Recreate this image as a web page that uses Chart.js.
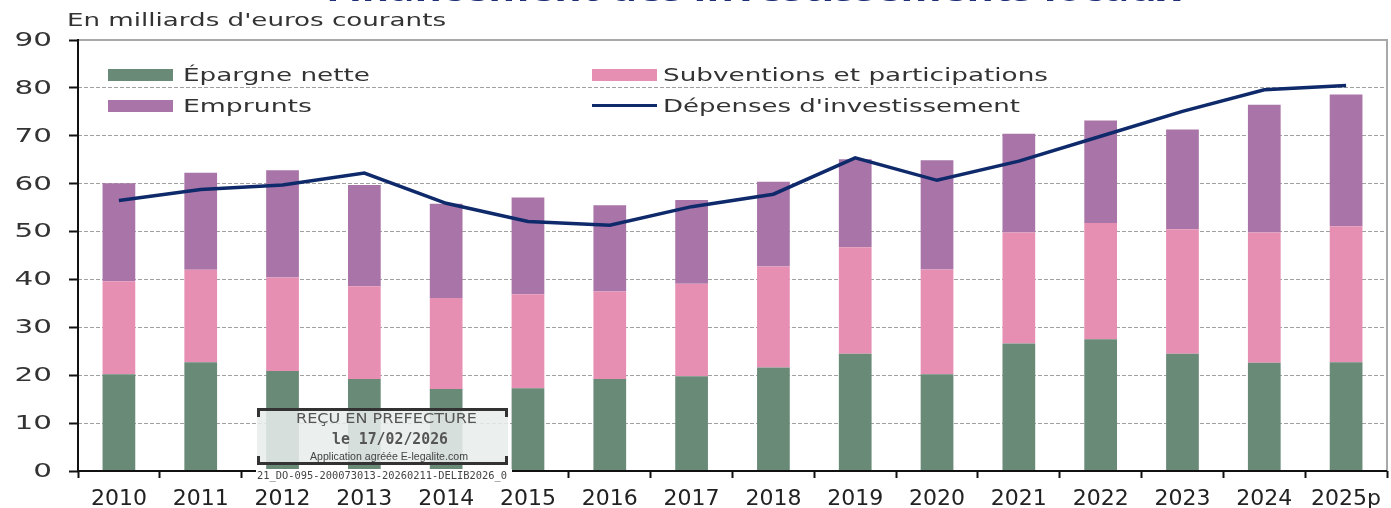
<!DOCTYPE html>
<html>
<head>
<meta charset="utf-8">
<script src="https://cdn.jsdelivr.net/npm/chart.js@4.4.1/dist/chart.umd.min.js"></script>
<style>
  body { margin: 0; background: #fff; font-family: "DejaVu Sans", sans-serif; }
  #wrap { position: relative; width: 1391px; height: 508px; overflow: hidden; }
  .fit { position: absolute; white-space: nowrap; transform-origin: 0 0; }
  #title { left: 326px; top: -30px; font: bold 36px "Open Sans", sans-serif; line-height: 36px; color: #1e2f78; }
  #unit { left: 67px; top: 11px; font-size: 18px; line-height: 18px; color: #333; }
  .leg { font-size: 18px; line-height: 18px; color: #333; }
  .box { position: absolute; width: 65px; height: 12px; }
  .ln { position: absolute; width: 65px; height: 3px; background: #0f2a6b; }
  #stamp { position: absolute; left: 257px; top: 408px; width: 251px; height: 57px;
           background: rgba(232,238,236,0.86); color: #555; }
  #stamp .e { position: absolute; background: #333; }
  #stamp .t1 { left: 39px; top: 3px; font: 14px "DejaVu Sans", sans-serif; line-height: 14px; }
  #stamp .t2 { left: 75px; top: 24px; font: bold 15px "DejaVu Sans Mono", monospace; line-height: 15px; }
  #stamp .t3 { left: 53px; top: 43px; font: 11px "Liberation Sans Narrow", "Liberation Sans", sans-serif; line-height: 11px; color: #444; }
  #ref { position: absolute; left: 256px; top: 469px; width: 256px; height: 14px; background: #fff; }
  #ref span { left: 1px; top: 2px; font: 10px "DejaVu Sans Mono", monospace; line-height: 10px; color: #444; }
</style>
</head>
<body>
<div id="wrap">
  <canvas id="canvas" width="1391" height="508"></canvas>
  <div id="title" class="fit" data-w="855">Financement des investissements locaux</div>
  <div id="unit" class="fit" data-w="379">En milliards d'euros courants</div>
  <div class="box" style="left:108px;top:69px;background:#6a8a78"></div>
  <div class="leg fit" style="left:183px;top:66px" data-w="187">Épargne nette</div>
  <div class="box" style="left:592px;top:69px;background:#e78fb3"></div>
  <div class="leg fit" style="left:663px;top:66px" data-w="385">Subventions et participations</div>
  <div class="box" style="left:108px;top:100px;background:#a974a8"></div>
  <div class="leg fit" style="left:183px;top:97px" data-w="129">Emprunts</div>
  <div class="ln" style="left:592px;top:104px"></div>
  <div class="leg fit" style="left:663px;top:97px" data-w="357">Dépenses d'investissement</div>
  <div id="stamp">
    <div class="e" style="left:0;top:0;width:251px;height:3px"></div>
    <div class="e" style="left:0;top:0;width:3px;height:9px"></div>
    <div class="e" style="right:0;top:0;width:3px;height:9px"></div>
    <div class="e" style="left:0;bottom:0;width:251px;height:3px"></div>
    <div class="e" style="left:0;bottom:0;width:3px;height:9px"></div>
    <div class="e" style="right:0;bottom:0;width:3px;height:9px"></div>
    <div class="t1 fit" data-w="181">REÇU EN PREFECTURE</div>
    <div class="t2 fit" data-w="116">le 17/02/2026</div>
    <div class="t3 fit" data-w="158">Application agréée E-legalite.com</div>
  </div>
  <div id="ref"><span class="fit" data-w="250">21_DO-095-200073013-20260211-DELIB2026_0</span></div>
</div>
<script>
var years = ['2010', '2011', '2012', '2013', '2014', '2015', '2016', '2017', '2018', '2019', '2020', '2021', '2022', '2023', '2024', '2025p'];
var epargne = [20.2, 22.7, 20.9, 19.2, 17.1, 17.3, 19.2, 19.8, 21.6, 24.5, 20.2, 26.6, 27.5, 24.5, 22.6, 22.7];
var subventions = [19.4, 19.3, 19.5, 19.4, 19.0, 19.6, 18.3, 19.3, 21.1, 22.2, 21.9, 23.2, 24.3, 26.0, 27.2, 28.4];
var emprunts = [20.5, 20.3, 22.4, 21.1, 19.7, 20.2, 18.0, 17.5, 17.7, 18.4, 22.8, 20.6, 21.4, 20.8, 26.7, 27.5];
var depenses = [56.5, 58.8, 59.7, 62.2, 55.9, 52.1, 51.3, 55.2, 57.8, 65.4, 60.7, 64.7, 69.9, 75.1, 79.6, 80.5];

// stretch each html text to the width it has in the picture
function fitTexts() {
    document.querySelectorAll('.fit').forEach(function (el) {
        var w = el.getBoundingClientRect().width;
        el.style.transform = 'scaleX(' + (el.dataset.w / w) + ')';
    });
}

// axes, frame and the wide y labels, drawn by hand
var frame = {
    id: 'frame',
    afterDatasetsDraw: function (chart) {
        var a = chart.chartArea, ctx = chart.ctx, y = chart.scales.y;
        ctx.save();
        ctx.strokeStyle = '#a8a8a8';
        ctx.lineWidth = 2;
        ctx.beginPath();
        ctx.moveTo(a.left, a.top);
        ctx.lineTo(a.right, a.top);
        ctx.lineTo(a.right, a.bottom);
        ctx.stroke();
        ctx.strokeStyle = '#111';
        ctx.beginPath();
        ctx.moveTo(a.left, a.top - 1);
        ctx.lineTo(a.left, a.bottom);
        ctx.lineTo(a.right, a.bottom);
        ctx.stroke();
        ctx.fillStyle = '#333';
        ctx.font = '19px "DejaVu Sans"';
        ctx.textAlign = 'right';
        ctx.textBaseline = 'middle';
        y.ticks.forEach(function (t) {
            ctx.save();
            ctx.translate(52, y.getPixelForValue(t.value) + 1);
            ctx.scale(1.55, 1);
            ctx.fillText(String(t.value), 0, 0);
            ctx.restore();
        });
        ctx.restore();
    }
};

window.onload = function () {
    fitTexts();
    var ctx = document.getElementById('canvas').getContext('2d');
    window.myBar = new Chart(ctx, {
        type: 'bar',
        data: {
            labels: years,
            datasets: [{
                label: 'Dépenses d\'investissement',
                type: 'line',
                data: depenses,
                borderColor: '#0f2a6b',
                borderWidth: 3.5,
                pointRadius: 0,
                fill: false,
                order: 0
            }, {
                label: 'Épargne nette',
                data: epargne,
                backgroundColor: '#6a8a78',
                order: 1
            }, {
                label: 'Subventions et participations',
                data: subventions,
                backgroundColor: '#e78fb3',
                order: 1
            }, {
                label: 'Emprunts',
                data: emprunts,
                backgroundColor: '#a974a8',
                order: 1
            }]
        },
        options: {
            responsive: false,
            animation: false,
            layout: { padding: { top: 40, right: 4, left: 0, bottom: 0 } },
            datasets: { bar: { barPercentage: 0.4, categoryPercentage: 1 } },
            plugins: { legend: { display: false }, tooltip: { enabled: false } },
            scales: {
                x: {
                    stacked: true,
                    afterFit: function (s) { s.height = 37; },
                    grid: { drawOnChartArea: false, tickLength: 7, tickColor: '#111', tickWidth: 2 },
                    border: { display: false },
                    ticks: { color: '#222', padding: 8, font: { family: 'DejaVu Sans', size: 22 } }
                },
                y: {
                    stacked: true,
                    min: 0,
                    max: 90,
                    afterFit: function (s) { s.width = 78; },
                    grid: { color: '#a0a0a0', lineWidth: 1, tickLength: 9, tickColor: '#111', tickWidth: 2 },
                    border: { display: false, dash: [4, 2] },
                    ticks: { stepSize: 10, padding: 18, color: 'rgba(0,0,0,0)', font: { family: 'DejaVu Sans', size: 19 } }
                }
            }
        },
        plugins: [frame]
    });
};
</script>
</body>
</html>
